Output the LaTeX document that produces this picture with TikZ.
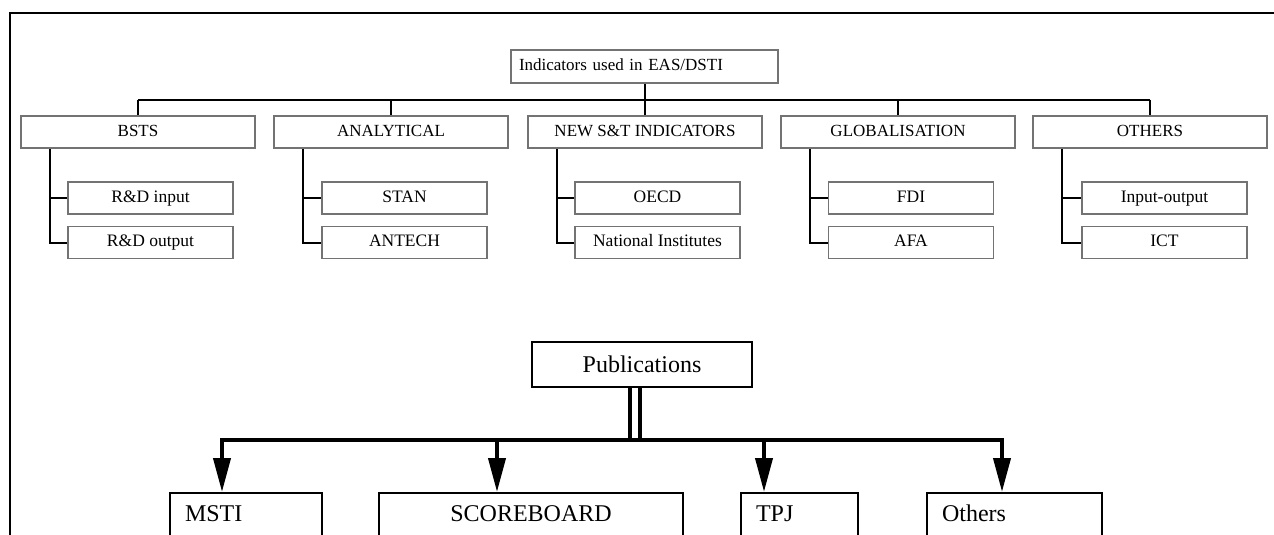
\documentclass[tikz,border=0pt]{standalone}
\usepackage{fontspec}
\setmainfont{Liberation Serif}
\usetikzlibrary{arrows.meta}

\begin{document}
\begin{tikzpicture}[
  x=1pt, y=-1pt,
  box/.style={draw=black!55, line width=1.5pt, minimum width=234pt, minimum height=32pt, inner sep=0pt, text height=12pt, text depth=3.5pt, font=\fontsize{17}{20}\selectfont},
  subbox/.style={box, minimum width=165pt, font=\fontsize{17.5}{20}\selectfont},
  pubbox/.style={draw, line width=2pt, anchor=north, inner xsep=15pt, inner ysep=11pt, text height=17pt, text depth=35pt, align=left, font=\fontsize{24}{28}\selectfont},
  link/.style={line width=2pt},
  bus/.style={line width=4pt, line cap=rect},
  arrow/.style={line width=4pt, -{Triangle[length=34pt, width=17pt]}}
]
\path[use as bounding box] (0,0) rectangle (1274,535);
\clip (0,0) rectangle (1274,535);

% Frame
\draw[line width=2.5pt] (1274,13) -- (10,13) -- (10,535);

% Top tree: indicators
\node[box, minimum width=267pt, minimum height=33pt, text width=251pt, inner xsep=8pt, align=left] (title) at (644.5,66.5) {Indicators used in EAS/DSTI};

\node[box] (bsts)  at (138,132)  {BSTS};
\node[box] (anal)  at (391,132)  {ANALYTICAL};
\node[box] (newst) at (645,132)  {NEW S\&T INDICATORS};
\node[box] (glob)  at (898,132)  {GLOBALISATION};
\node[box] (oth)   at (1150,132) {OTHERS};

\coordinate (branch) at (0,100);
\draw[link] (title.south) -- (title.south |- branch);
\draw[link] (bsts.north |- branch) -- (oth.north |- branch);
\foreach \c in {bsts,anal,newst,glob,oth}
  \draw[link] (\c.north |- branch) -- (\c.north);

% Sub boxes
\node[subbox] (bsts1)  at (150.5,198)  {R\&D input};
\node[subbox] (bsts2)  at (150.5,242.5) {R\&D output};
\node[subbox] (anal1)  at (404.5,198)  {STAN};
\node[subbox] (anal2)  at (404.5,242.5) {ANTECH};
\node[subbox] (newst1) at (657.5,198)  {OECD};
\node[subbox] (newst2) at (657.5,242.5) {National Institutes};
\node[subbox] (glob1)  at (911,198)    {FDI};
\node[subbox] (glob2)  at (911,242.5)  {AFA};
\node[subbox] (oth1)   at (1164.5,198) {Input-output};
\node[subbox] (oth2)   at (1164.5,242.5) {ICT};

\foreach \c in {bsts,anal,newst,glob,oth} {
  \draw[link] ([xshift=-88pt]\c.south) |- (\c2.west);
  \draw[link] ([xshift=-88pt]\c.south |- \c1.west) -- (\c1.west);
}

% Bottom tree: publications
\node[draw, line width=1.5pt, minimum width=220pt, minimum height=45pt, font=\fontsize{24}{28}\selectfont] (pub) at (642,364.5) {Publications};

\node[pubbox, text width=122pt] (msti)  at (246,492)    {MSTI};
\node[pubbox, text width=274pt, align=center] (score) at (531,492) {SCOREBOARD};
\node[pubbox, text width=87pt]  (tpj)   at (799.5,492)  {TPJ};
\node[pubbox, text width=145pt] (others) at (1014.5,492) {Others};

\coordinate (bus) at (0,440);
\draw[link, line width=3.5pt] ([xshift=-12pt]pub.south) -- ([xshift=-12pt]pub.south |- bus);
\draw[link, line width=3.5pt] ([xshift=-2pt]pub.south) -- ([xshift=-2pt]pub.south |- bus);
\draw[bus] ([xshift=-24pt]msti.north |- bus) -- ([xshift=-12.5pt]others.north |- bus);

\draw[arrow] ([xshift=-24pt]msti.north |- bus) -- ([xshift=-24pt]msti.north);
\draw[arrow] ([xshift=-34pt]score.north |- bus) -- ([xshift=-34pt]score.north);
\draw[arrow] ([xshift=-35.5pt]tpj.north |- bus) -- ([xshift=-35.5pt]tpj.north);
\draw[arrow] ([xshift=-12.5pt]others.north |- bus) -- ([xshift=-12.5pt]others.north);

\end{tikzpicture}
\end{document}
